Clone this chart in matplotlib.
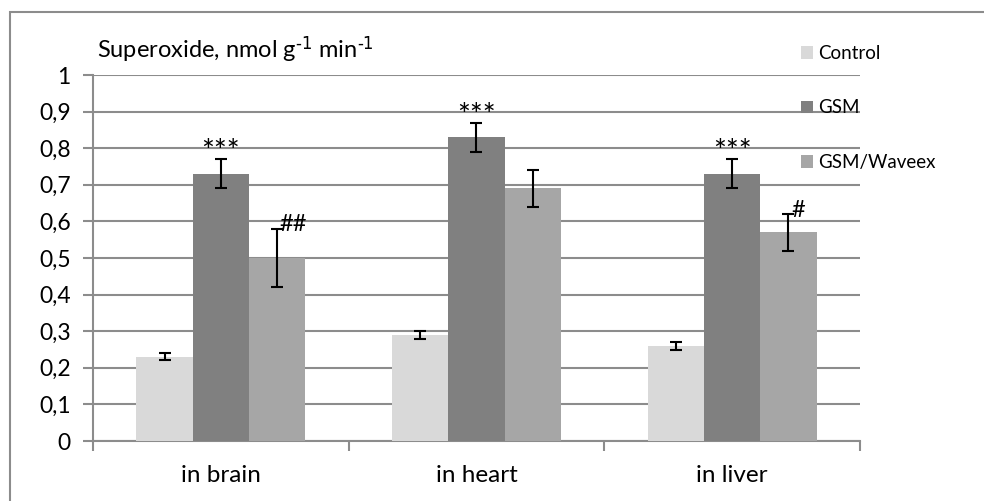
import numpy as np
import matplotlib
matplotlib.use("Agg")
import matplotlib.pyplot as plt
from matplotlib.patches import Rectangle

plt.rcParams['font.family'] = ['Lato', 'DejaVu Sans']
plt.rcParams['mathtext.default'] = 'regular'

organs = ['in brain', 'in heart', 'in liver']
groups = ['Control', 'GSM', 'GSM/Waveex']
control = [0.23, 0.29, 0.26]
control_err = [0.01, 0.01, 0.01]
gsm = [0.73, 0.83, 0.73]
gsm_err = [0.04, 0.04, 0.04]
waveex = [0.50, 0.69, 0.57]
waveex_err = [0.08, 0.05, 0.05]
gsm_marks = ['***', '***', '***']
waveex_marks = ['##', '', '#']

colors = ['#d9d9d9', '#808080', '#a6a6a6']
grid_c = '#8c8c8c'

fig = plt.figure(figsize=(9.84, 5.01), dpi=100)
fig.patches.append(Rectangle((10 / 984, -0.1), 1.2, 1 - 12 / 501 + 0.1,
                             transform=fig.transFigure, fill=False,
                             edgecolor='#8c8c8c', lw=1.5))
ax = fig.add_axes([93 / 984, 1 - 441 / 501, 767 / 984, 366 / 501])

x = np.arange(len(organs)) + 0.5
w = 0.22
series = [(control, control_err), (gsm, gsm_err), (waveex, waveex_err)]
for i, (vals, errs) in enumerate(series):
    pos = x + (i - 1) * w
    ax.bar(pos, vals, width=w, color=colors[i], label=groups[i], zorder=3)
    ax.errorbar(pos, vals, yerr=errs, fmt='none', ecolor='black', elinewidth=1.5,
                capsize=4.2, capthick=1.5, zorder=4)

for i in range(len(organs)):
    ax.text(x[i], gsm[i] + gsm_err[i] - 0.02, gsm_marks[i], ha='center', va='bottom',
            fontsize=22, zorder=5)
    if waveex_marks[i]:
        ax.text(x[i] + w + 0.01, waveex[i] + waveex_err[i] - 0.018, waveex_marks[i],
                ha='left', va='bottom', fontsize=17, zorder=5)

ax.set_xlim(0, 3)
ax.set_ylim(0, 1)
ax.set_yticks(np.arange(0, 1.01, 0.1))
ax.set_yticklabels(['0'] + [('%.1f' % v).replace('.', ',') for v in np.arange(0.1, 0.95, 0.1)] + ['1'],
                   fontsize=16.5)
ax.yaxis.grid(True, color=grid_c, lw=1.5, zorder=0)
ax.set_xticks([0, 1, 2, 3])
ax.set_xticklabels([])
ax.set_xticks(x, minor=True)
ax.set_xticklabels(organs, minor=True, fontsize=17.5)
ax.tick_params(axis='x', which='minor', length=0, pad=17)
ax.tick_params(axis='x', which='major', length=7, width=1.5, color=grid_c)
ax.tick_params(axis='y', length=7, width=1.5, color=grid_c, pad=9)
for s in ['top', 'right']:
    ax.spines[s].set_visible(False)
for s in ['left', 'bottom']:
    ax.spines[s].set_color(grid_c)
    ax.spines[s].set_linewidth(1.5)

fig.text(97 / 984, 1 - 58 / 501, r'Superoxide, nmol g$^{\text{-1}}$ min$^{\text{-1}}$', fontsize=17,
         va='baseline', ha='left')

ax.legend(loc='upper left', bbox_to_anchor=(784 / 984, 1 - 28 / 501),
          bbox_transform=fig.transFigure, frameon=False, fontsize=13.5,
          handlelength=0.65, handleheight=0.65, handletextpad=0.25, labelspacing=2.0)

fig.savefig('out.png', dpi=100)
